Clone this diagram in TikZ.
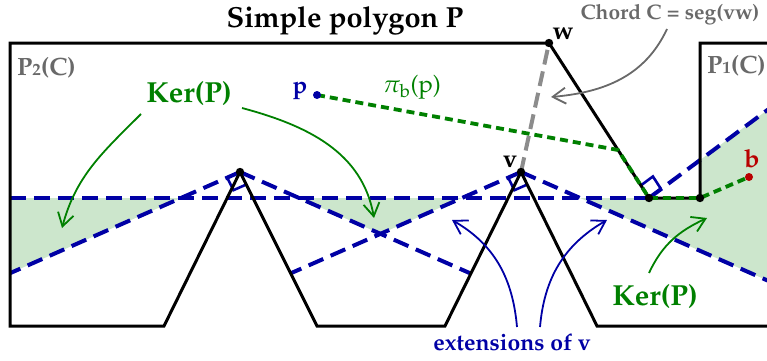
\documentclass[tikz,border=0pt]{standalone}
\usepackage[T1]{fontenc}
\usepackage{mathpazo}
\usetikzlibrary{arrows.meta, calc}

\definecolor{extblue}{RGB}{0,0,165}
\definecolor{kergreen}{RGB}{0,128,0}
\definecolor{labelgray}{RGB}{105,105,105}
\definecolor{bred}{RGB}{185,0,0}

\begin{document}
\begin{tikzpicture}[
    x=1pt, y=1pt,
    polyedge/.style={draw=black, line width=3pt},
    ext/.style={draw=extblue, line width=4pt, dash pattern=on 16pt off 8pt},
    kerfill/.style={fill=kergreen!20},
    spath/.style={draw=kergreen, line width=3.8pt, dash pattern=on 8pt off 5pt},
    chord/.style={draw=black!45, line width=4pt, dash pattern=on 15pt off 7pt},
    rtmark/.style={draw=extblue, line width=2.6pt},
    arr/.style={line width=1.8pt, -{Straight Barb[length=13pt, width=16pt]}},
    lbl/.style={anchor=base, inner sep=0pt, font=\bfseries\fontsize{25}{28}\selectfont}
]
\useasboundingbox (0,0) rectangle (767,360);
\clip (0,0) rectangle (767,360);

% Polygon vertices
\coordinate (tl) at (10,317);
\coordinate (w) at (549,317);
\coordinate (k1) at (649,162);
\coordinate (k2) at (700,162);
\coordinate (k3) at (700,317);
\coordinate (tr) at (790,317);
\coordinate (bl) at (10,34);
\coordinate (a0) at (164,34);
\coordinate (a) at (240,188);
\coordinate (a1) at (317,34);
\coordinate (v0) at (445,34);
\coordinate (v) at (521,188);
\coordinate (v1) at (597,34);
\coordinate (br) at (790,34);

% Ends of the extensions
\coordinate (h0) at (10,162);
\coordinate (aL) at (10,86.8);
\coordinate (aR) at (470.9,86.4);
\coordinate (vL) at (290.7,86.7);
\coordinate (vR) at (790,69.6);
\coordinate (kR) at (790,266.8);

% Kernel pieces
\fill[kerfill] (h0) -- (180.9,162) -- (aL) -- cycle;
\fill[kerfill] (299.1,162) -- (461.9,162) -- (380.5,126.2) -- cycle;
\fill[kerfill] (580.1,162) -- (k2) -- (700,199.9) -- (kR) -- (vR) -- cycle;

% Extensions
\draw[ext] (h0) -- (k1);
\draw[ext] (a) -- (aL);
\draw[ext] (a) -- (aR);
\draw[ext] (v) -- (vL);
\draw[ext] (v) -- (vR);
\draw[ext] (k1) -- (kR);

% Right angles
\coordinate (sa1) at ($(a)!14pt!(aL)$);
\coordinate (sa2) at ($(a)!14pt!(a1)$);
\draw[rtmark] (sa1) -- ($(sa1)+(sa2)-(a)$) -- (sa2);
\coordinate (sv1) at ($(v)!14pt!(vL)$);
\coordinate (sv2) at ($(v)!14pt!(v1)$);
\draw[rtmark] (sv1) -- ($(sv1)+(sv2)-(v)$) -- (sv2);
\coordinate (sk1) at ($(k1)!15pt!(w)$);
\coordinate (sk2) at ($(k1)!15pt!(kR)$);
\draw[rtmark] (sk1) -- ($(sk1)+(sk2)-(k1)$) -- (sk2);

% Boundary
\draw[polyedge] (tr) -- (k3) -- (k2) -- (k1) -- (w) -- (tl) -- (bl) -- (a0)
    -- (a) -- (a1) -- (v0) -- (v) -- (v1) -- (br);

% Chord
\draw[chord] (v) -- (w);

% Shortest path
\coordinate (p) at (317,265);
\coordinate (h) at (618,210);
\coordinate (b) at (749,183);
\draw[spath] (p) -- (h) -- (k1) -- (k2) -- (b);

\foreach \c in {w, a, v, k1, k2}
    \fill (\c) circle (4.2pt);
\fill[extblue] (p) circle (4pt);
\fill[bred] (b) circle (4pt);

% Labels
\node[lbl, font=\bfseries\fontsize{29}{32}\selectfont] (title) at (345,333) {Simple polygon P};
\node[lbl, anchor=base west, text=labelgray] (ptwo) at (17,285) {P{\fontsize{17}{17}\selectfont 2}(C)};
\node[lbl, anchor=base west, text=labelgray] (pone) at (707,287) {P{\fontsize{17}{17}\selectfont 1}(C)};
\node[lbl, text=labelgray, font=\bfseries\fontsize{21}{24}\selectfont] (chordtext) at (670,340.5) {Chord C = seg(vw)};
\node[lbl, text=kergreen, font=\bfseries\fontsize{29}{32}\selectfont] (kerleft) at (189,258) {Ker(P)};
\node[lbl, text=kergreen, font=\bfseries\fontsize{29}{32}\selectfont] (kerright) at (655,55) {Ker(P)};
\node[lbl, text=extblue, font=\bfseries\fontsize{23}{26}\selectfont] (exttext) at (512,10) {extensions of v};
\node[lbl] (wtext) at (563,321) {w};
\node[lbl] (vtext) at (510,193) {v};
\node[lbl, text=bred] (btext) at (752,193) {b};
\node[lbl, text=extblue, font=\bfseries\fontsize{24}{26}\selectfont] (ptext) at (300,267) {p};
\node[lbl, text=kergreen, font=\fontsize{24}{26}\selectfont] (pitext) at (412,268) {$\pi_{\mathrm{b}}$(p)};

% Pointers
\coordinate (g1s) at (141,246); \coordinate (g1e) at (62,132);
\coordinate (g2s) at (242,252); \coordinate (g2e) at (374,142);
\coordinate (g3s) at (649,87);  \coordinate (g3e) at (707,142);
\coordinate (b1s) at (517,33);  \coordinate (b1e) at (452,140);
\coordinate (b2s) at (540,33);  \coordinate (b2e) at (607,140);
\coordinate (cs) at (667,331);  \coordinate (ce) at (551,263);
\draw[arr, kergreen] (g1s) to[out=-135, in=75] (g1e);
\draw[arr, kergreen] (g2s) to[out=-15, in=100] (g2e);
\draw[arr, kergreen] (g3s) to[out=65, in=-155] (g3e);
\draw[arr, extblue] (b1s) to[out=95, in=-30] (b1e);
\draw[arr, extblue] (b2s) to[out=85, in=-150] (b2e);
\draw[arr, labelgray] (cs) to[out=-115, in=5] (ce);
\end{tikzpicture}
\end{document}
